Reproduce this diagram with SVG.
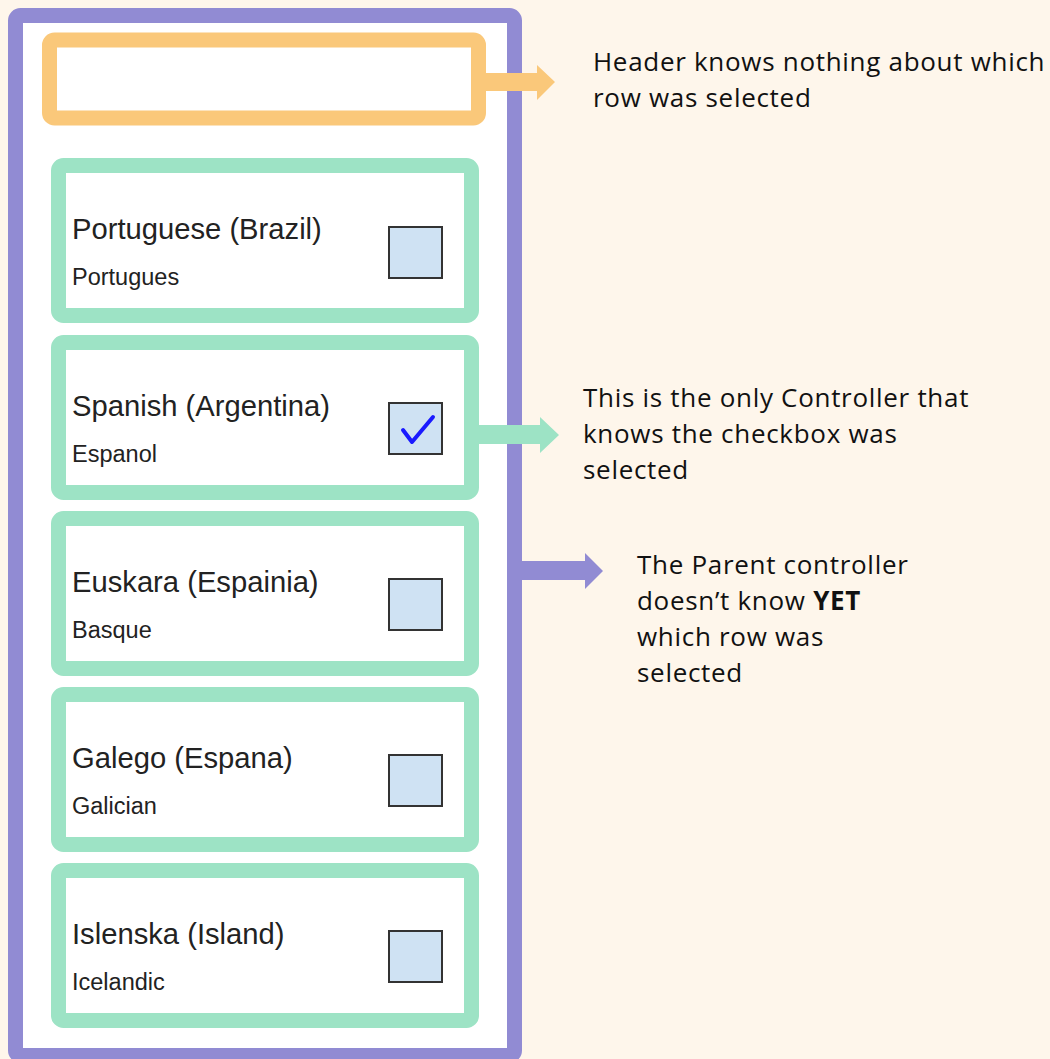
<svg xmlns="http://www.w3.org/2000/svg" width="1050" height="1059" viewBox="0 0 1050 1059">
  <style>
    .parent { fill: #ffffff; stroke: #918bd3; stroke-width: 15; }
    .header { fill: #ffffff; stroke: #fac87a; stroke-width: 15; }
    .row { fill: #ffffff; stroke: #9de3c5; stroke-width: 15; }
    .box { fill: #cfe2f3; stroke: #333333; stroke-width: 2; }
    .title { font-family: "Liberation Sans", Arial, sans-serif; font-size: 29.2px; fill: #222222; }
    .sub { font-family: "Liberation Sans", Arial, sans-serif; font-size: 23.5px; fill: #222222; }
    .note { font-family: "Open Sans", "Noto Sans", sans-serif; font-size: 26px; letter-spacing: 0.7px; fill: #111111; }
    .tick { fill: none; stroke: #1a1aff; stroke-width: 4; stroke-linecap: round; stroke-linejoin: round; }
  </style>

  <rect x="0" y="0" width="1050" height="1059" fill="#fef6eb"/>

  <!-- Parent controller frame -->
  <g id="parent">
    <rect class="parent" x="15.5" y="15.5" width="499" height="1040" rx="5"/>
  </g>

  <!-- Header -->
  <g id="header">
    <rect class="header" x="49.5" y="40" width="429" height="78" rx="5"/>
  </g>

  <!-- Rows -->
  <g id="row-portuguese">
    <rect class="row" x="58.5" y="165.5" width="413" height="150" rx="5"/>
    <text class="title" x="72" y="239">Portuguese (Brazil)</text>
    <text class="sub" x="72" y="285">Portugues</text>
    <rect class="box" x="389" y="227" width="53" height="51"/>
  </g>

  <g id="row-spanish">
    <rect class="row" x="58.5" y="342.5" width="413" height="150" rx="5"/>
    <text class="title" x="72" y="416">Spanish (Argentina)</text>
    <text class="sub" x="72" y="462">Espanol</text>
    <rect class="box" x="389" y="403" width="53" height="51"/>
    <polyline class="tick" points="403,430 412,442 433,417"/>
  </g>

  <g id="row-euskara">
    <rect class="row" x="58.5" y="518.5" width="413" height="150" rx="5"/>
    <text class="title" x="72" y="592">Euskara (Espainia)</text>
    <text class="sub" x="72" y="638">Basque</text>
    <rect class="box" x="389" y="579" width="53" height="51"/>
  </g>

  <g id="row-galego">
    <rect class="row" x="58.5" y="694.5" width="413" height="150" rx="5"/>
    <text class="title" x="72" y="768">Galego (Espana)</text>
    <text class="sub" x="72" y="814">Galician</text>
    <rect class="box" x="389" y="755" width="53" height="51"/>
  </g>

  <g id="row-islenska">
    <rect class="row" x="58.5" y="870.5" width="413" height="150" rx="5"/>
    <text class="title" x="72" y="944">Islenska (Island)</text>
    <text class="sub" x="72" y="990">Icelandic</text>
    <rect class="box" x="389" y="931" width="53" height="51"/>
  </g>

  <!-- Connectors: block arrows pointing to the notes -->
  <g id="connectors">
    <polygon fill="#fac87a" points="486,73 537,73 537,65 555,82 537,100 537,91 486,91"/>
    <polygon fill="#9de3c5" points="479,425 540,425 540,417 559,435 540,453 540,444 479,444"/>
    <polygon fill="#918bd3" points="521,561 585,561 585,553 603,571 585,589 585,580 521,580"/>
  </g>

  <!-- Notes -->
  <g id="note-header">
    <text class="note" x="593" y="71">Header knows nothing about which</text>
    <text class="note" x="593" y="107">row was selected</text>
  </g>
  <g id="note-row">
    <text class="note" x="583" y="407">This is the only Controller that</text>
    <text class="note" x="583" y="443">knows the checkbox was</text>
    <text class="note" x="583" y="479">selected</text>
  </g>
  <g id="note-parent">
    <text class="note" x="637" y="574">The Parent controller</text>
    <text class="note" x="637" y="610">doesn’t know <tspan font-weight="bold">YET</tspan></text>
    <text class="note" x="637" y="646">which row was</text>
    <text class="note" x="637" y="682">selected</text>
  </g>
</svg>
